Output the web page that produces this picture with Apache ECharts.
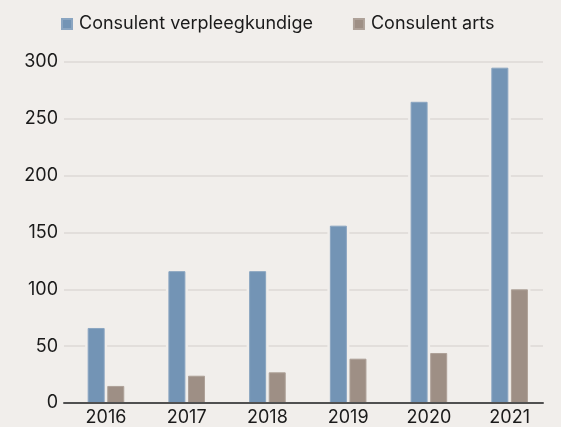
<!DOCTYPE html>
<html>
<head>
<meta charset="utf-8">
<script src="https://cdn.jsdelivr.net/npm/echarts@6/dist/echarts.min.js"></script>
<style>
  html, body { margin: 0; padding: 0; background: #f1eeeb; }
  #chart { width: 561px; height: 427px; }
</style>
</head>
<body>
<div id="chart"></div>
<script>
// data
const years = ['2016', '2017', '2018', '2019', '2020', '2021'];
const verpleegkundige = [66, 116, 116, 156, 265, 295];
const arts = [15, 24, 27, 39, 44, 100];
const seriesNames = ['Consulent verpleegkundige', 'Consulent arts'];

const bg = '#f1eeeb';
const blue = '#7394b5';
const brown = '#9e8f85';
const font = 'Inter, "Noto Sans", sans-serif';

const chart = echarts.init(document.getElementById('chart'));

// grid 0: gridlines + axis line, grid 1: halo bars (cut gridlines), grid 2: real bars
const yHidden = { type: 'value', min: 0, max: 300, interval: 50, show: false };

const option = {
    backgroundColor: bg,
    textStyle: { fontFamily: font },
    legend: {
        data: seriesNames,
        left: 61,
        top: 15,
        padding: 0,
        icon: 'rect',
        itemWidth: 10,
        itemHeight: 10,
        itemGap: 40,
        textStyle: { fontSize: 18, color: '#1a1a1a', fontFamily: font, padding: [0, 0, 0, 2] }
    },
    grid: [
        { left: 64, right: 18, top: 62, bottom: 24 },
        { left: 65.6, right: 11, top: 62, bottom: 24 },
        { left: 65.6, right: 11, top: 62, bottom: 24 }
    ],
    xAxis: [
        {
            gridIndex: 0, type: 'category', data: years, z: 5,
            axisLine: { lineStyle: { color: '#505050', width: 2 } },
            axisTick: { show: false },
            axisLabel: { show: false }
        },
        {
            gridIndex: 1, type: 'category', data: years,
            axisLine: { show: false },
            axisTick: { show: false },
            axisLabel: { fontSize: 18, color: '#1a1a1a', margin: 6, fontFamily: font }
        },
        { gridIndex: 2, type: 'category', data: years, show: false }
    ],
    yAxis: [
        {
            gridIndex: 0, type: 'value', min: 0, max: 300, interval: 50,
            axisLine: { show: false },
            axisTick: { show: false },
            axisLabel: { fontSize: 18, color: '#1a1a1a', margin: 6, fontFamily: font },
            splitLine: { lineStyle: { color: '#dcd9d6', width: 1.5 } }
        },
        Object.assign({ gridIndex: 1 }, yHidden),
        Object.assign({ gridIndex: 2 }, yHidden)
    ],
    series: [
        // halo behind the bars, same colour as background
        {
            type: 'bar', xAxisIndex: 1, yAxisIndex: 1, data: verpleegkundige,
            barWidth: 22, barGap: '-10.9%', silent: true,
            itemStyle: { color: bg }
        },
        {
            type: 'bar', xAxisIndex: 1, yAxisIndex: 1, data: arts,
            barWidth: 22, barGap: '-10.9%', silent: true,
            itemStyle: { color: bg }
        },
        {
            name: seriesNames[0], type: 'bar', xAxisIndex: 2, yAxisIndex: 2, data: verpleegkundige,
            barWidth: 17, barGap: '15.3%',
            itemStyle: { color: blue, borderColor: '#8aa5c1', borderWidth: 1 }
        },
        {
            name: seriesNames[1], type: 'bar', xAxisIndex: 2, yAxisIndex: 2, data: arts,
            barWidth: 17, barGap: '15.3%',
            itemStyle: { color: brown, borderColor: '#aea198', borderWidth: 1 }
        }
    ]
};

chart.setOption(option);
</script>
</body>
</html>
